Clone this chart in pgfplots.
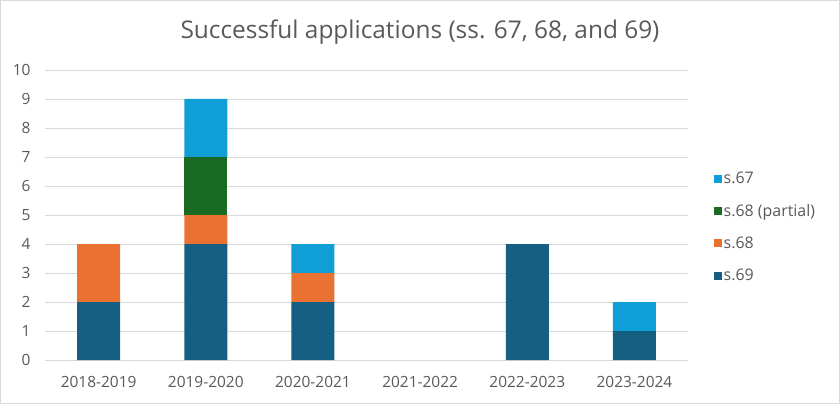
\documentclass[border=0pt]{standalone}
\usepackage{fontspec}
\setmainfont{Open Sans}
\usepackage{pgfplots}
\pgfplotsset{compat=1.18}
\definecolor{cSixNine}{HTML}{156082}
\definecolor{cSixEight}{HTML}{E97132}
\definecolor{cPartial}{HTML}{196B24}
\definecolor{cSixSeven}{HTML}{0F9ED5}
\definecolor{txt}{HTML}{595959}
\definecolor{gridc}{HTML}{D9D9D9}
\begin{document}
\begin{tikzpicture}[x=1bp,y=1bp]
\useasboundingbox (-45,-44) rectangle (795,360);
\draw[gridc, line width=1bp] (-44.5,-43.5) rectangle (794.5,359.5);
\begin{axis}[
  at={(0,0)}, anchor=south west,
  scale only axis, width=643bp, height=290bp,
  ybar stacked, bar width=43bp,
  xmin=-0.5, xmax=5.5, ymin=0, ymax=10,
  xtick=data,
  xticklabels={2018-2019,2019-2020,2020-2021,2021-2022,2022-2023,2023-2024},
  ytick={0,1,...,10},
  ymajorgrids, grid style={gridc, line width=0.75bp},
  axis x line*=bottom, axis y line*=left,
  y axis line style={draw=none},
  x axis line style={gridc, line width=0.75bp, -},
  major tick length=0pt,
  tick label style={font=\fontsize{15.5}{17}\selectfont, text=txt},
  /pgf/number format/assume math mode=true,
  yticklabel style={xshift=-11bp},
  xticklabel style={yshift=-13bp},
  title={Successful applications (ss. 67, 68, and 69)},
  every axis title shift=0pt,
  title style={at={(0.5832,1.107)}, anchor=base, font=\fontsize{24.5}{27}\selectfont, text=txt},
  legend style={at={(1.035,0.458)}, anchor=west, draw=none, fill=none,
    font=\fontsize{16}{18}\selectfont, text=txt, row sep=15bp,
    /tikz/every even column/.append style={column sep=2bp}},
  legend cell align=left,
  legend image code/.code={\fill[#1] (0bp,-4bp) rectangle (8bp,4bp);},
  reverse legend,
]
\addplot[fill=cSixNine, draw=none] coordinates {(0,2) (1,4) (2,2) (3,0) (4,4) (5,1)};
\addplot[fill=cSixEight, draw=none] coordinates {(0,2) (1,1) (2,1) (3,0) (4,0) (5,0)};
\addplot[fill=cPartial, draw=none] coordinates {(0,0) (1,2) (2,0) (3,0) (4,0) (5,0)};
\addplot[fill=cSixSeven, draw=none] coordinates {(0,0) (1,2) (2,1) (3,0) (4,0) (5,1)};
\legend{s.69,s.68,s.68 (partial),s.67}
\end{axis}
\end{tikzpicture}
\end{document}
